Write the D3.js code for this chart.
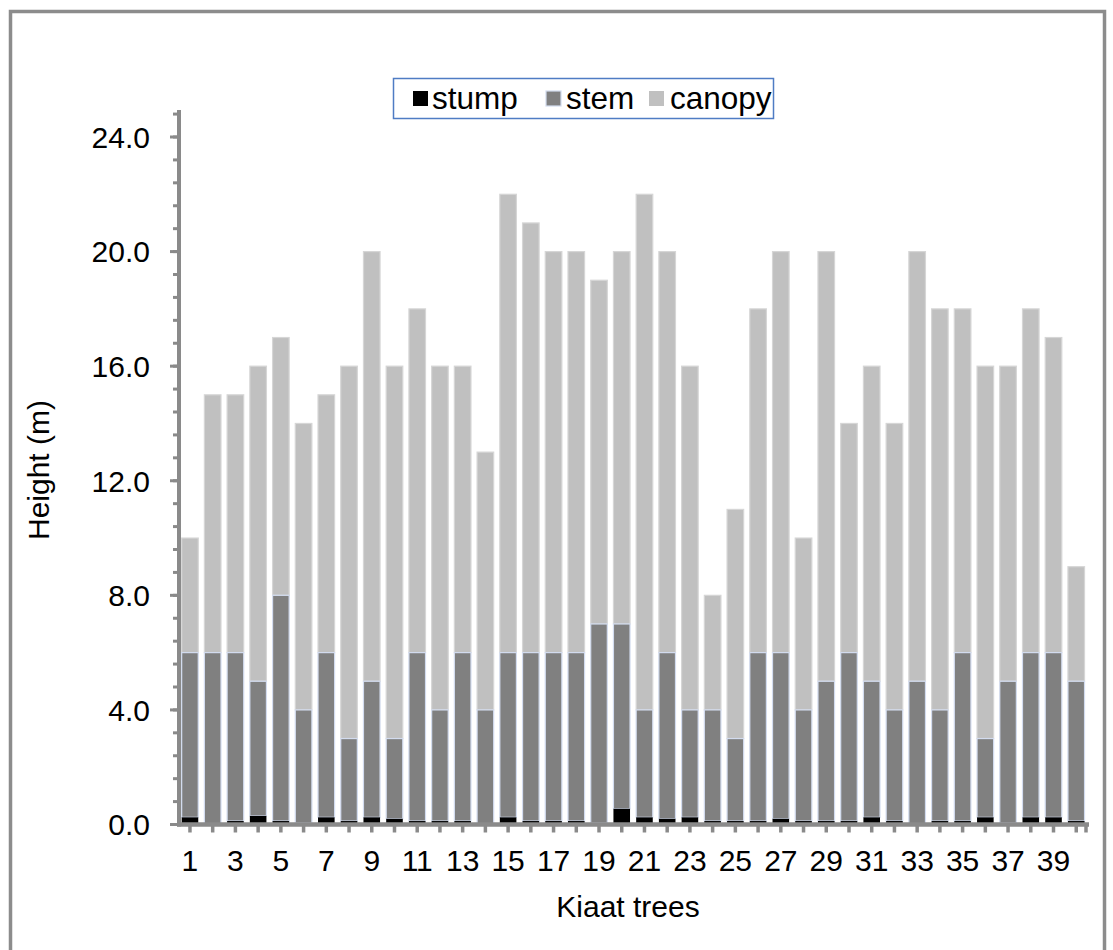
<!DOCTYPE html>
<html>
<head>
<meta charset="utf-8">
<script src="https://cdn.jsdelivr.net/npm/d3@7"></script>
<style>
  html, body { margin: 0; padding: 0; background: #fff; }
  svg { display: block; font-family: "Liberation Sans", Arial, sans-serif; }
</style>
</head>
<body>
<svg id="chart" width="1113" height="950"></svg>
<script>
// Kiaat tree height components (m), stacked: stump + stem + canopy = total height
const trees = d3.range(1, 41);
const stump = [0.25, 0.03, 0.12, 0.3, 0.12, 0.05, 0.25, 0.12, 0.25, 0.2,
               0.12, 0.12, 0.12, 0.03, 0.25, 0.12, 0.12, 0.12, 0.05, 0.55,
               0.25, 0.2, 0.25, 0.12, 0.12, 0.12, 0.2, 0.12, 0.12, 0.12,
               0.25, 0.12, 0.03, 0.12, 0.12, 0.25, 0.05, 0.25, 0.25, 0.12];
const stem = [5.75, 5.97, 5.88, 4.7, 7.88, 3.95, 5.75, 2.88, 4.75, 2.8,
              5.88, 3.88, 5.88, 3.97, 5.75, 5.88, 5.88, 5.88, 6.95, 6.45,
              3.75, 5.8, 3.75, 3.88, 2.88, 5.88, 5.8, 3.88, 4.88, 5.88,
              4.75, 3.88, 4.97, 3.88, 5.88, 2.75, 4.95, 5.75, 5.75, 4.88];
const canopy = [4, 9, 9, 11, 9, 10, 9, 13, 15, 13,
                12, 12, 10, 9, 16, 15, 14, 14, 12, 13,
                18, 14, 12, 4, 8, 12, 14, 6, 15, 8,
                11, 10, 15, 14, 12, 13, 11, 12, 11, 4];
const seriesNames = ["stump", "stem", "canopy"];
const colors = { stump: "#000000", stem: "#808080", canopy: "#c0c0c0" };
const strokes = { stump: "none", stem: "#d3dcef", canopy: "#d6d6d6" };
const yMajor = [0, 4, 8, 12, 16, 20, 24];
const xLabels = trees.filter(t => t % 2 === 1);

const rows = trees.map((t, i) => ({ tree: t, stump: stump[i], stem: stem[i], canopy: canopy[i] }));
const stacked = d3.stack().keys(seriesNames)(rows);

const svg = d3.select("#chart");
const fs = 30;

// outer frame
svg.append("rect")
  .attr("x", 10.5).attr("y", 11.5).attr("width", 1094).attr("height", 960)
  .attr("fill", "none").attr("stroke", "#8c8c8c").attr("stroke-width", 3.5);

const x = d3.scaleBand().domain(trees).range([178.6, 1087.6]).paddingInner(0.27).paddingOuter(0.135);
const y = d3.scaleLinear().domain([0, 24]).range([824.5, 137]);

// bars: canopy first, stump last so the thin stump band stays on top
const g = svg.append("g");
stacked.slice().reverse().forEach(layer => {
  g.append("g").selectAll("rect").data(layer).join("rect")
    .attr("x", d => x(d.data.tree))
    .attr("width", x.bandwidth())
    .attr("y", d => y(d[1]))
    .attr("height", d => y(d[0]) - y(d[1]))
    .attr("fill", colors[layer.key])
    .attr("stroke", strokes[layer.key])
    .attr("stroke-width", 1.2);
});

// y axis
const axisColor = "#8a8a8a";
const yTop = y(24.8) - 4;
svg.append("line").attr("x1", 179).attr("x2", 179).attr("y1", yTop).attr("y2", 826.5)
  .attr("stroke", axisColor).attr("stroke-width", 4);
const minor = d3.range(0, 24.81, 0.8);
svg.append("g").selectAll("line").data(minor).join("line")
  .attr("x1", 173).attr("x2", 179)
  .attr("y1", d => y(d)).attr("y2", d => y(d))
  .attr("stroke", axisColor).attr("stroke-width", 3);
svg.append("g").selectAll("line").data(yMajor).join("line")
  .attr("x1", 170).attr("x2", 179)
  .attr("y1", d => y(d)).attr("y2", d => y(d))
  .attr("stroke", axisColor).attr("stroke-width", 3);
svg.append("g").selectAll("text").data(yMajor).join("text")
  .attr("x", 150).attr("y", d => y(d))
  .attr("dy", "0.36em").attr("text-anchor", "end")
  .attr("font-size", fs).attr("fill", "#000")
  .text(d => d.toFixed(1));

// x axis
svg.append("line").attr("x1", 177).attr("x2", 1089).attr("y1", 824.5).attr("y2", 824.5)
  .attr("stroke", axisColor).attr("stroke-width", 4.5);
const xTicks = trees.map(t => x(t) + x.bandwidth() / 2).concat([1086]);
svg.append("g").selectAll("line").data(xTicks).join("line")
  .attr("x1", d => d).attr("x2", d => d)
  .attr("y1", 826).attr("y2", 832.5)
  .attr("stroke", axisColor).attr("stroke-width", 3.5);
svg.append("g").selectAll("text").data(xLabels).join("text")
  .attr("x", d => x(d) + x.bandwidth() / 2).attr("y", 860)
  .attr("dy", "0.36em").attr("text-anchor", "middle")
  .attr("font-size", fs).attr("fill", "#000")
  .text(d => d);

// axis titles
svg.append("text").attr("x", 628).attr("y", 906).attr("dy", "0.36em")
  .attr("text-anchor", "middle").attr("font-size", fs).text("Kiaat trees");
svg.append("text").attr("transform", "translate(38,470) rotate(-90)")
  .attr("dy", "0.36em").attr("text-anchor", "middle").attr("font-size", fs).text("Height (m)");

// legend
const lg = svg.append("g");
lg.append("rect").attr("x", 393.5).attr("y", 78.5).attr("width", 380).attr("height", 40)
  .attr("fill", "#fff").attr("stroke", "#4f7cc4").attr("stroke-width", 1.5);
const legendItems = [
  { key: "stump", sx: 413, tx: 432 },
  { key: "stem", sx: 546, tx: 566 },
  { key: "canopy", sx: 649, tx: 670 }
];
legendItems.forEach(it => {
  lg.append("rect").attr("x", it.sx).attr("y", 91).attr("width", 15).attr("height", 15)
    .attr("fill", colors[it.key])
    .attr("stroke", it.key === "stem" ? "#d3dcef" : "none").attr("stroke-width", 1.2);
  lg.append("text").attr("x", it.tx).attr("y", 98).attr("dy", "0.36em")
    .attr("font-size", 31.5).text(it.key);
});
</script>
</body>
</html>
